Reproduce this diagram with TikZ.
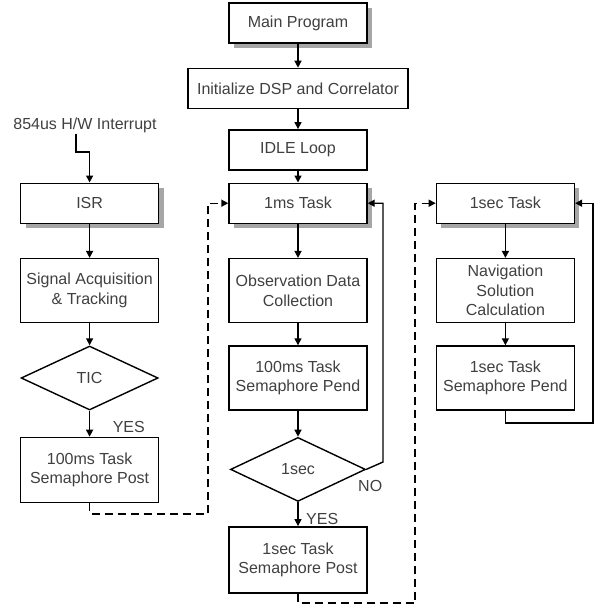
\documentclass[tikz,border=0pt]{standalone}
\usepackage{fontspec}
\setmainfont{Liberation Sans}
\usepackage{tikz}
\usetikzlibrary{shapes.geometric,arrows.meta,positioning,calc,shadows}

\begin{document}
\begin{tikzpicture}[
    x=1pt, y=-1pt,
    node distance=24pt and 68pt,
    proc/.style={rectangle, draw=black, line width=1.4pt, fill=white, minimum width=138pt, minimum height=40pt, inner sep=1pt, align=center, text=black!75, font=\fontsize{16}{19.5}\selectfont},
    shproc/.style={proc, drop shadow={shadow xshift=5pt, shadow yshift=-5pt, fill=gray!70, opacity=1}},
    dec/.style={diamond, draw=black, line width=1.4pt, fill=white, minimum width=137pt, minimum height=64pt, inner sep=0pt, text=black!75, font=\fontsize{16}{19.5}\selectfont},
    lbl/.style={inner sep=1pt, text=black!75, font=\fontsize{16}{19.5}\selectfont},
    arrow/.style={-{Triangle[length=7pt,width=7pt]}, line width=1.4pt},
    dasharrow/.style={arrow, dash pattern=on 8pt off 5pt}
]
    \useasboundingbox (0,0) rectangle (596,605);

    % middle column
    \node (main) [shproc] at (298,23) {Main Program};
    \node (init) [proc, below=24pt of main, minimum width=220pt] {Initialize DSP and Correlator};
    \node (idle) [proc, below=20pt of init] {IDLE Loop};
    \node (onems) [shproc, below=12pt of idle] {1ms Task};
    \node (obs) [proc, below=34pt of onems, minimum height=64pt] {Observation Data\\Collection};
    \node (pend) [proc, below=22pt of obs, minimum height=64pt] {100ms Task\\Semaphore Pend};
    \node (onesecdec) [dec, below=26pt of pend, minimum width=135pt] {1sec};
    \node (post2) [proc, below=24pt of onesecdec, minimum height=66pt] {1sec Task\\Semaphore Post};

    % left column
    \node (isr) [shproc, left=69pt of onems] {ISR};
    \node (irq) [lbl] at (85,125) {854us H/W Interrupt};
    \node (sig) [proc, below=34pt of isr, minimum height=64pt] {Signal Acquisition\\\& Tracking};
    \node (tic) [dec, below=22pt of sig] {TIC};
    \node (post1) [proc, below=26pt of tic, minimum height=65pt] {100ms Task\\Semaphore Post};

    % right column
    \node (onesec) [shproc, right=68pt of onems] {1sec Task};
    \node (nav) [proc, below=34pt of onesec, minimum height=64pt] {Navigation\\Solution\\Calculation};
    \node (pend2) [proc, below=22pt of nav, minimum height=64pt] {1sec Task\\Semaphore Pend};

    % bends
    \coordinate (irqbend) at (76,152);
    \coordinate (dashL) at (208,514);
    \coordinate (noR) at (383,462);
    \coordinate (dashR) at (415,603);
    \coordinate (loopR) at (593,423);

    \draw [arrow] (main) -- (init);
    \draw [arrow] (init) -- (idle);
    \draw [arrow] (idle) -- (onems);
    \draw [arrow] (onems) -- (obs);
    \draw [arrow] (obs) -- (pend);
    \draw [arrow] (pend) -- (onesecdec);
    \draw [arrow] (onesecdec) -- (post2);

    \draw [arrow] (irq.south -| irqbend) -- (irqbend) -| (isr.north);
    \draw [arrow] (isr) -- (sig);
    \draw [arrow] (sig) -- (tic);
    \draw [arrow] (tic) -- (post1);

    \draw [arrow] (onesec) -- (nav);
    \draw [arrow] (nav) -- (pend2);

    \draw [dasharrow] (post1.south) |- (dashL) |- (onems.west);
    \draw [arrow] (onesecdec.east) -- (noR) |- (onems.east);
    \draw [dasharrow] (post2.south) |- (dashR) |- (onesec.west);
    \draw [arrow] (pend2.south) |- (loopR) |- (onesec.east);

    \node (yes1) [lbl, anchor=south west] at ([xshift=22pt,yshift=3pt]post1.north) {YES};
    \node (yes2) [lbl, anchor=south west] at ([xshift=7pt]post2.north) {YES};
    \node (no) [lbl, anchor=north] at ([xshift=4pt,yshift=-10pt]onesecdec.east) {NO};
\end{tikzpicture}
\end{document}
